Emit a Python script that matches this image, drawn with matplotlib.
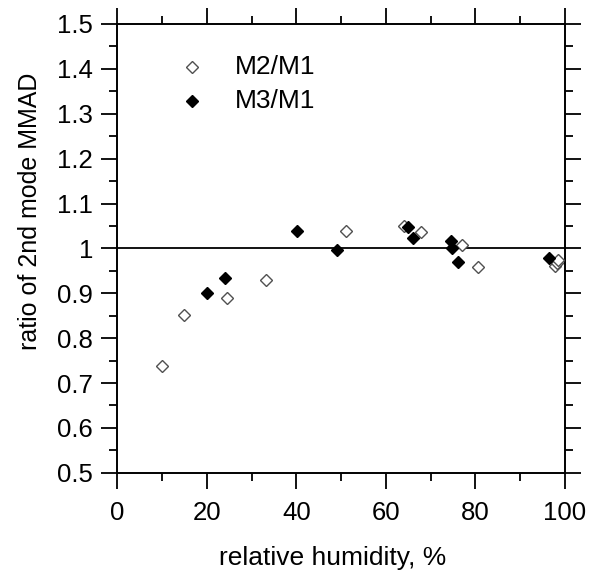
import matplotlib
matplotlib.use("Agg")
import matplotlib.pyplot as plt
from matplotlib.ticker import MultipleLocator

plt.rcParams['font.family'] = ['Liberation Sans', 'DejaVu Sans']

# M2/M1 (open diamonds)
rh_m2 = [10.1, 14.9, 24.5, 33.2, 51.0, 64.0, 67.9, 77.1, 80.5, 97.9, 98.2, 98.5]
ratio_m2 = [0.738, 0.852, 0.890, 0.929, 1.039, 1.050, 1.036, 1.007, 0.958, 0.961, 0.967, 0.974]

# M3/M1 (filled diamonds)
rh_m3 = [20.0, 24.0, 40.1, 49.0, 65.0, 66.0, 74.6, 74.9, 76.1, 96.4]
ratio_m3 = [0.901, 0.935, 1.039, 0.997, 1.048, 1.024, 1.016, 1.000, 0.970, 0.979]

yticks = [0.5, 0.6, 0.7, 0.8, 0.9, 1.0, 1.1, 1.2, 1.3, 1.4, 1.5]
ytick_labels = ['0.5', '0.6', '0.7', '0.8', '0.9', '1', '1.1', '1.2', '1.3', '1.4', '1.5']

fig = plt.figure(figsize=(5.89, 5.71), dpi=100)
ax = fig.add_axes([0.199, 0.172, 0.760, 0.786])

ax.axhline(1.0, color='black', lw=1.3, zorder=1)

ax.plot(rh_m2, ratio_m2, ls='none', marker='D', ms=6, mfc='white',
        mec='#505050', mew=1.0, zorder=3)
ax.plot(rh_m3, ratio_m3, ls='none', marker='D', ms=6, mfc='black',
        mec='black', mew=1.0, zorder=4)

# legend drawn by hand in data space
ax.plot([16.8], [1.404], ls='none', marker='D', ms=6, mfc='white',
        mec='#505050', mew=1.0)
ax.plot([16.8], [1.328], ls='none', marker='D', ms=6, mfc='black', mec='black')
ax.text(26.3, 1.404, 'M2/M1', fontsize=19, va='center', ha='left')
ax.text(26.3, 1.328, 'M3/M1', fontsize=19, va='center', ha='left')

ax.set_xlim(0, 100)
ax.set_ylim(0.5, 1.5)
ax.xaxis.set_major_locator(MultipleLocator(20))
ax.xaxis.set_minor_locator(MultipleLocator(10))
ax.set_yticks(yticks)
ax.set_yticklabels(ytick_labels)
ax.yaxis.set_minor_locator(MultipleLocator(0.05))

ax.tick_params(which='both', direction='out', top=True, right=True,
               width=1.3, labelsize=18.5)
ax.tick_params(which='major', length=11.5)
ax.tick_params(which='minor', length=6)
ax.tick_params(axis='y', which='major', pad=6)
ax.tick_params(axis='x', which='major', pad=9)
for s in ax.spines.values():
    s.set_linewidth(1.4)

ax.set_xlabel('relative humidity, %', fontsize=19)
ax.set_ylabel('ratio of 2nd mode MMAD', fontsize=18)
ax.xaxis.set_label_coords(0.481, -0.163)
ax.yaxis.set_label_coords(-0.167, 0.5835)

fig.savefig('out.png', dpi=100)
